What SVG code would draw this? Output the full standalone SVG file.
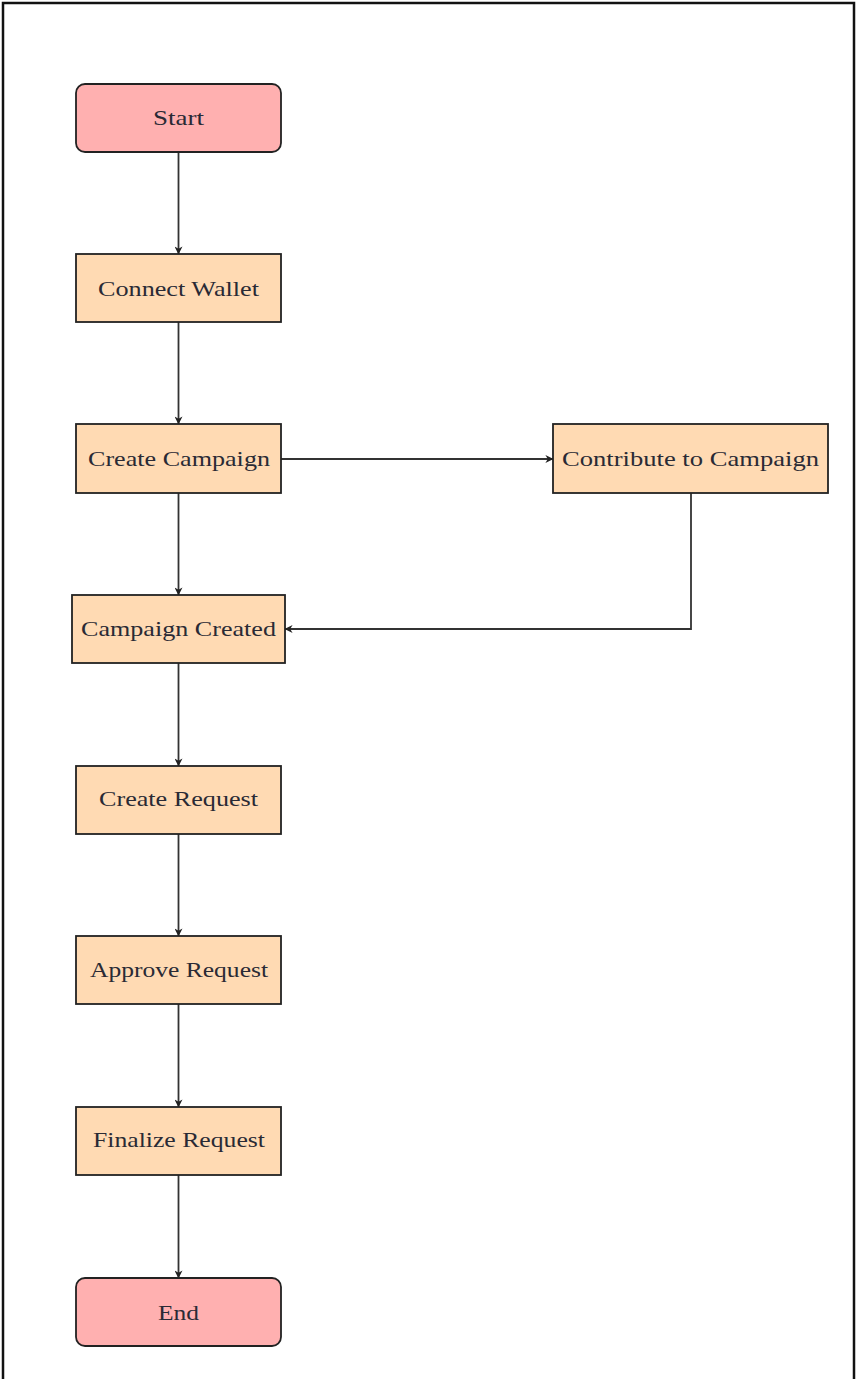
<svg xmlns="http://www.w3.org/2000/svg" width="856" height="1379" viewBox="0 0 856 1379">
  <style>
    .term { fill: #ffb0b0; stroke: #222; stroke-width: 1.8; }
    .proc { fill: #ffdab3; stroke: #222; stroke-width: 1.8; }
    .lbl { font-family: "Liberation Serif", "DejaVu Serif", serif; font-size: 21px; fill: #2a2a35; text-anchor: middle; dominant-baseline: central; }
    .conn { fill: none; stroke: #333; stroke-width: 1.8; marker-end: url(#arrow); }
  </style>
  <defs>
    <marker id="arrow" viewBox="0 0 10 10" refX="9.5" refY="5" markerWidth="8" markerHeight="8" markerUnits="userSpaceOnUse" orient="auto">
      <path d="M0,0 L10,5 L0,10 L3,5 Z" fill="#222"/>
    </marker>
  </defs>

  <rect width="856" height="1379" fill="#ffffff"/>
  <!-- page frame -->
  <path d="M3,1379 V3 H854 V1379" fill="none" stroke="#111" stroke-width="2.5"/>

  <g id="connectors">
    <path class="conn" d="M178.5,152 V254"/>
    <path class="conn" d="M178.5,322 V424"/>
    <path class="conn" d="M281,459 H553"/>
    <path class="conn" d="M178.5,493 V595"/>
    <path class="conn" d="M691,493 V629 H285"/>
    <path class="conn" d="M178.5,663 V766"/>
    <path class="conn" d="M178.5,834 V936"/>
    <path class="conn" d="M178.5,1004 V1107"/>
    <path class="conn" d="M178.5,1175 V1278"/>
  </g>

  <g id="start">
    <rect class="term" x="76" y="84" width="205" height="68" rx="9"/>
    <text class="lbl" x="178.5" y="118" textLength="51" lengthAdjust="spacingAndGlyphs">Start</text>
  </g>
  <g id="connect-wallet">
    <rect class="proc" x="76" y="254" width="205" height="68"/>
    <text class="lbl" x="178.5" y="289" textLength="161" lengthAdjust="spacingAndGlyphs">Connect Wallet</text>
  </g>
  <g id="create-campaign">
    <rect class="proc" x="76" y="424" width="205" height="69"/>
    <text class="lbl" x="179" y="459" textLength="182" lengthAdjust="spacingAndGlyphs">Create Campaign</text>
  </g>
  <g id="contribute">
    <rect class="proc" x="553" y="424" width="275" height="69"/>
    <text class="lbl" x="690.5" y="459" textLength="257" lengthAdjust="spacingAndGlyphs">Contribute to Campaign</text>
  </g>
  <g id="campaign-created">
    <rect class="proc" x="72" y="595" width="213" height="68"/>
    <text class="lbl" x="178.5" y="629" textLength="195" lengthAdjust="spacingAndGlyphs">Campaign Created</text>
  </g>
  <g id="create-request">
    <rect class="proc" x="76" y="766" width="205" height="68"/>
    <text class="lbl" x="178.5" y="799" textLength="159" lengthAdjust="spacingAndGlyphs">Create Request</text>
  </g>
  <g id="approve-request">
    <rect class="proc" x="76" y="936" width="205" height="68"/>
    <text class="lbl" x="179" y="970" textLength="178" lengthAdjust="spacingAndGlyphs">Approve Request</text>
  </g>
  <g id="finalize-request">
    <rect class="proc" x="76" y="1107" width="205" height="68"/>
    <text class="lbl" x="179" y="1140" textLength="172" lengthAdjust="spacingAndGlyphs">Finalize Request</text>
  </g>
  <g id="end">
    <rect class="term" x="76" y="1278" width="205" height="68" rx="9"/>
    <text class="lbl" x="178.5" y="1313" textLength="41" lengthAdjust="spacingAndGlyphs">End</text>
  </g>
</svg>
